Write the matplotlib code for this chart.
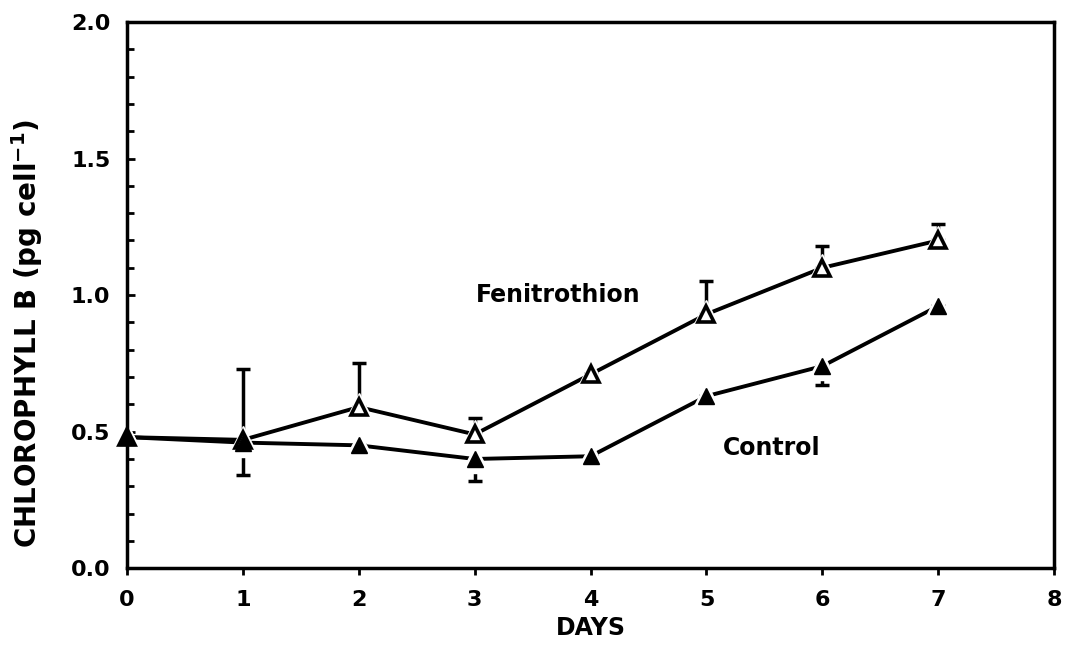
import numpy as np
import matplotlib
matplotlib.use('Agg')
import matplotlib.pyplot as plt
from matplotlib.ticker import MultipleLocator

plt.rcParams['font.family'] = 'DejaVu Sans'
plt.rcParams['font.weight'] = 'bold'

days = [0, 1, 2, 3, 4, 5, 6, 7]
fenitrothion = [0.48, 0.47, 0.59, 0.49, 0.71, 0.93, 1.10, 1.20]
fen_err_up = [0.0, 0.26, 0.16, 0.06, 0.0, 0.12, 0.08, 0.06]
control = [0.48, 0.46, 0.45, 0.40, 0.41, 0.63, 0.74, 0.96]
ctrl_err_down = [0.0, 0.12, 0.0, 0.08, 0.0, 0.0, 0.07, 0.0]

fig = plt.figure(figsize=(10.67, 6.45), dpi=100)
ax = fig.add_axes([0.119, 0.119, 0.869, 0.847])

zeros = [0.0] * len(days)

# one-sided error bars
ax.errorbar(days, fenitrothion, yerr=[zeros, fen_err_up], fmt='none',
            ecolor='black', elinewidth=2.5, capsize=5, capthick=2.5,
            zorder=1.5)
ax.errorbar(days, control, yerr=[ctrl_err_down, zeros], fmt='none',
            ecolor='black', elinewidth=2.5, capsize=5, capthick=2.5,
            zorder=1.5)

ax.plot(days, fenitrothion, color='black', lw=2.8, zorder=1)
ax.plot(days, control, color='black', lw=2.8, zorder=1)

# white halo so lines stop short of markers (kept under the spines)
for ys in (fenitrothion, control):
    ax.plot(days, ys, ls='none', marker='^', ms=20, mfc='white',
            mec='white', zorder=2.2, clip_on=False)

ax.plot(days, fenitrothion, ls='none', marker='^', ms=12, mfc='white',
        mec='black', mew=2.6, zorder=4, clip_on=False)
ax.plot(days, control, ls='none', marker='^', ms=12, mfc='black',
        mec='black', mew=1, zorder=5, clip_on=False)

ax.text(4.43, 1.0, 'Fenitrothion', ha='right', va='center', fontsize=17,
        fontweight='bold')
ax.text(5.14, 0.44, 'Control', ha='left', va='center', fontsize=17,
        fontweight='bold')

ax.set_xlim(0, 8)
ax.set_ylim(0, 2.0)
ax.set_xticks(range(9))
ax.set_yticks([0.0, 0.5, 1.0, 1.5, 2.0])
ax.set_yticklabels(['0.0', '0.5', '1.0', '1.5', '2.0'])
ax.yaxis.set_minor_locator(MultipleLocator(0.1))

ax.tick_params(axis='x', direction='out', length=5, width=2, pad=11,
               labelsize=16)
ax.tick_params(axis='y', which='major', direction='in', length=6, width=2,
               pad=12, labelsize=16)
ax.tick_params(axis='y', which='minor', direction='in', length=5, width=2)
for lab in ax.get_xticklabels() + ax.get_yticklabels():
    lab.set_fontweight('bold')

for s in ax.spines.values():
    s.set_linewidth(2.5)

ax.set_xlabel('DAYS', fontsize=17, fontweight='bold', labelpad=4)
ax.set_ylabel(r'CHLOROPHYLL B (pg cell$^{\mathbf{-1}}$)', fontsize=20,
              fontweight='bold')
ax.yaxis.set_label_coords(-0.088, 0.43)

plt.savefig('out.png', dpi=100)
